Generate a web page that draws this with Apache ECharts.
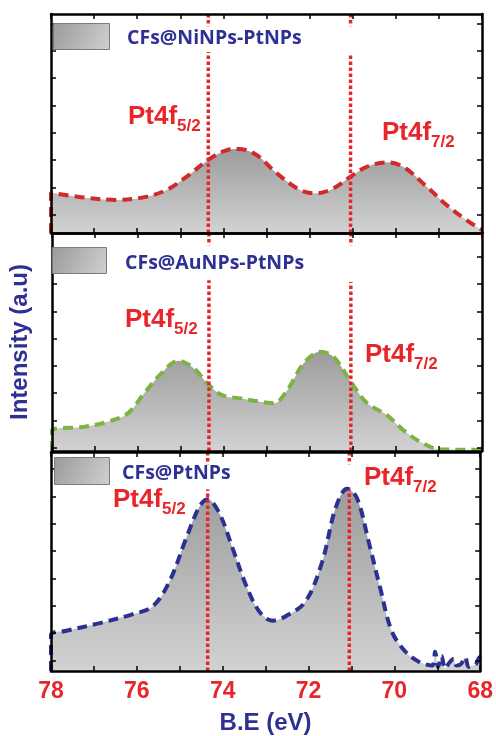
<!DOCTYPE html>
<html><head><meta charset="utf-8">
<script src="https://cdn.jsdelivr.net/npm/echarts@6/dist/echarts.min.js"></script>
<style>html,body{margin:0;padding:0;background:#fff}#c{width:496px;height:736px}</style>
</head><body><div id="c"></div>
<script>
// ---- data ----
const panelNames = ['CFs@NiNPs-PtNPs', 'CFs@AuNPs-PtNPs', 'CFs@PtNPs'];
const xTicks = [78, 76, 74, 72, 70, 68];
const beNi = [78, 78, 77.25, 76.48, 75.86, 75.32, 74.85, 74.35, 73.92, 73.65, 73.23, 72.76, 72.22, 71.84, 71.45, 71.05, 70.67, 70.21, 69.83, 69.28, 68.82, 68.36, 68.0];
const intNi = [0, 1.47, 1.30, 1.21, 1.30, 1.57, 2.06, 2.67, 3.03, 3.07, 2.85, 2.18, 1.57, 1.45, 1.63, 2.06, 2.42, 2.58, 2.42, 1.69, 1.02, 0.47, 0.11];
const beAu = [78, 78, 77.25, 76.71, 76.24, 75.86, 75.47, 75.05, 74.70, 74.35, 74.04, 73.61, 73.15, 72.84, 72.53, 72.15, 71.76, 71.45, 71.05, 70.67, 70.21, 69.83, 69.44, 68.97, 68.0];
const intAu = [0, 0.74, 0.89, 1.07, 1.38, 2.11, 2.83, 3.31, 3.03, 2.42, 2.05, 1.93, 1.81, 1.75, 2.23, 3.21, 3.64, 3.45, 2.54, 1.75, 1.32, 0.77, 0.34, 0.06, 0.04];
const bePt = [78, 78, 77.64, 76.86, 76.09, 75.63, 75.24, 74.85, 74.54, 74.35, 74.08, 73.77, 73.46, 73.15, 72.84, 72.53, 72.07, 71.68, 71.37, 71.10, 70.87, 70.60, 70.33, 70.06, 69.75, 69.44, 69.12, 69.05, 68.98, 68.90, 68.82, 68.72, 68.62, 68.55, 68.45, 68.35, 68.27, 68.18, 68.10, 68.02, 68.0];
const intPt = [0, 1.31, 1.47, 1.75, 2.08, 2.36, 3.27, 4.85, 6.01, 6.27, 5.77, 4.49, 3.15, 2.18, 1.84, 2.0, 2.54, 4.0, 5.95, 6.66, 6.31, 4.73, 3.03, 1.45, 0.72, 0.35, 0.2, 0.7, 0.15, 0.55, 0.1, 0.3, 0.45, 0.2, 0.25, 0.5, 0.15, 0.2, 0.25, 0.5, 0.2];
const peakBE = [74.35, 71.05];              // Pt4f5/2, Pt4f7/2 reference lines
const peakLineTop = [[6.61, 6.5], [6.27, 6.2], [6.63, 6.63]];
const yTickVals = [
  [0.66, 1.66, 2.66, 3.66, 4.66, 5.66, 6.66, 7.66],
  [0.12, 1.12, 2.12, 3.12, 4.12, 5.12, 6.12, 7.12],
  [0.38, 1.38, 2.38, 3.38, 4.38, 5.38, 6.38, 7.38]
];

// ---- styles ----
const curveColors = ['#d02a2a', '#7cb342', '#2b3191'];
const red = '#e8262a';
const blue = '#2e3192';
const grids = [
  {left: 51, top: 14, width: 431, height: 219},
  {left: 51, top: 233, width: 431, height: 218},
  {left: 51, top: 452, width: 431, height: 221}
];
const xs = [beNi, beAu, bePt], ys = [intNi, intAu, intPt];

const xAxes = [], yAxes = [], series = [];
for (let i = 0; i < 3; i++) {
  ['bottom', 'top'].forEach((pos) => {
    const showLab = (i === 2 && pos === 'bottom');
    xAxes.push({
      type: 'value', gridIndex: i, position: pos, min: 68, max: 78, interval: 1, inverse: true, z: 5,
      axisLine: {show: true, onZero: false, lineStyle: {color: '#000', width: 2.5}},
      axisTick: {show: true, inside: true, length: 5, lineStyle: {color: '#000', width: 1.5}},
      axisLabel: {show: showLab, margin: 9, color: red, fontSize: 23, fontWeight: 'bold', fontFamily: 'Liberation Sans',
        formatter: (v) => xTicks.indexOf(v) >= 0 ? String(v) : ''},
      splitLine: {show: false},
      name: showLab ? 'B.E (eV)' : '', nameLocation: 'middle', nameGap: 40,
      nameTextStyle: {color: blue, fontSize: 24, fontWeight: 'bold', fontFamily: 'Liberation Sans'}
    });
  });
  ['left', 'right'].forEach((pos) => {
    const showName = (i === 1 && pos === 'left');
    yAxes.push({
      type: 'value', gridIndex: i, position: pos, min: 0, max: 8, z: 5,
      axisLine: {show: true, onZero: false, lineStyle: {color: '#000', width: 2.5}},
      axisTick: {show: true, inside: true, length: 5, customValues: yTickVals[i], lineStyle: {color: '#000', width: 1.5}},
      axisLabel: {show: false},
      splitLine: {show: false},
      name: showName ? 'Intensity (a.u)' : '', nameLocation: 'middle', nameGap: 20, nameRotate: 90,
      nameTextStyle: {color: blue, fontSize: 24, fontWeight: 'bold', fontFamily: 'Liberation Sans'}
    });
  });
  series.push({
    name: panelNames[i], type: 'line', xAxisIndex: 2 * i, yAxisIndex: 2 * i,
    data: xs[i].map((x, k) => [x, ys[i][k]]), smooth: 0.35, symbol: 'none', z: 2,
    lineStyle: {color: curveColors[i], width: 4, type: [10, 6]},
    areaStyle: {opacity: 1, color: {type: 'linear', x: 0, y: 0, x2: 0, y2: 1,
      colorStops: [{offset: 0, color: '#9c9c9c'}, {offset: 1, color: '#d2d2d2'}]}}
  });
  peakBE.forEach((be, j) => {
    series.push({
      type: 'line', xAxisIndex: 2 * i, yAxisIndex: 2 * i, symbol: 'none', z: 3, silent: true,
      data: [[be, 0], [be, peakLineTop[i][j]]],
      lineStyle: {color: red, width: 3.5, type: [3.5, 2.5]}
    });
    series.push({
      type: 'line', xAxisIndex: 2 * i, yAxisIndex: 2 * i, symbol: 'none', z: 3, silent: true,
      data: [[be, 8], [be, 7.55]],
      lineStyle: {color: red, width: 3.5, type: [3.5, 2.5]}
    });
  });
}

const rich = {
  m: {fontSize: 26, lineHeight: 30, fontWeight: 'bold', color: red, fontFamily: 'Liberation Sans'},
  s: {fontSize: 17, lineHeight: 20, fontWeight: 'bold', color: red, fontFamily: 'Liberation Sans', padding: [19, 0, 0, 0]}
};
function ptLabel(sub, left, top) {
  return {text: '{m|Pt4f}{s|' + sub + '}', left: left, top: top, padding: 0, textStyle: {rich: rich}};
}
function nameLabel(t, left, top) {
  return {text: t, left: left, top: top, padding: 0,
    textStyle: {color: blue, fontSize: 19.5, lineHeight: 22, fontWeight: 'bold', fontFamily: 'Open Sans'}};
}
const titles = [
  nameLabel(panelNames[0], 127, 27), nameLabel(panelNames[1], 125, 252), nameLabel(panelNames[2], 122, 462),
  ptLabel('5/2', 128, 102), ptLabel('7/2', 382, 118),
  ptLabel('5/2', 125, 305), ptLabel('7/2', 365, 340),
  ptLabel('5/2', 113, 485), ptLabel('7/2', 364, 463)
];
const swatchFill = {type: 'linear', x: 0, y: 0, x2: 1, y2: 1,
  colorStops: [{offset: 0, color: '#9a9a9a'}, {offset: 1, color: '#d0d0d0'}]};
const swatches = [[53, 23, 56, 26], [52, 247, 54, 26], [54, 457, 55, 27]].map((r) => ({
  type: 'rect', left: r[0], top: r[1], shape: {width: r[2], height: r[3]}, z: 10,
  style: {fill: swatchFill, stroke: '#7a7a7a', lineWidth: 1}
}));

const chart = echarts.init(document.getElementById('c'), null, {renderer: 'canvas'});
chart.setOption({
  backgroundColor: '#fff', animation: false,
  grid: grids, xAxis: xAxes, yAxis: yAxes, series: series,
  title: titles, graphic: swatches
});
</script></body></html>
